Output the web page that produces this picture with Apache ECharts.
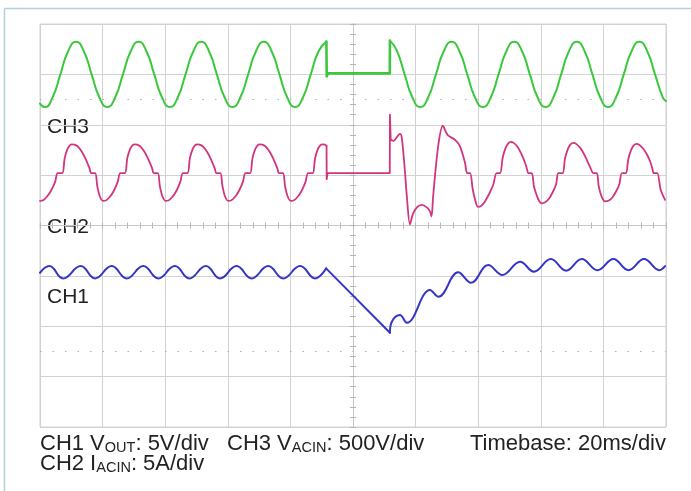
<!DOCTYPE html>
<html><head><meta charset="utf-8">
<script src="https://cdn.jsdelivr.net/npm/echarts@6/dist/echarts.min.js"></script>
<style>html,body{margin:0;padding:0;background:#fff}#c{width:691px;height:491px}</style>
</head><body><div id="c"></div>
<script>
// ---- CH3 V_ACIN (volts), time in ms ----
const ch3PreTime  = [0,1.5,4,6.5,9,11.5,14,16.5,19,21.5,24,26.5,29,31.5,34,36.5,39,41.5,44,46.5,49,51.5,54,56.5,59,61.5,64,66.5,69,71.5,74,76.5,79,81.5,84,86.5,89,91.5];
const ch3PreVolts = [-290,-325,-230,0,230,325,230,0,-230,-325,-230,0,230,325,230,0,-230,-325,-230,0,230,325,230,0,-230,-325,-230,0,230,325,230,0,-230,-325,-230,0,230,325];
const ch3GapTime  = [91.5,91.6,92,111.75,111.8];
const ch3GapVolts = [325,-20,10,10,335];
const ch3PostTime  = [111.8,114,116.5,119,121.5,124,126.5,129,131.5,134,136.5,139,141.5,144,146.5,149,151.5,154,156.5,159,161.5,164,166.5,169,171.5,174,176.5,179,181.5,184,186.5,189,191.5,194,196.5,199,200];
const ch3PostVolts = [335,235,0,-230,-325,-230,0,230,325,230,0,-230,-325,-230,0,230,325,230,0,-230,-325,-230,0,230,325,230,0,-230,-325,-230,0,230,325,230,0,-230,-265];
// ---- CH2 I_ACIN (amps) ----
const ch2PreTime = [0,1.0,2.2,3.6,4.8,5.7,
  7.1,7.9,8.8,9.6,10.2,11.0,12.2,13.6,14.8,15.8,16.4,17.6,18.3,19.1,20.1,21.0,22.2,23.6,24.8,25.7,
  27.1,27.9,28.8,29.6,30.2,31.0,32.2,33.6,34.8,35.8,36.4,37.6,38.3,39.1,40.1,41.0,42.2,43.6,44.8,45.7,
  47.1,47.9,48.8,49.6,50.2,51.0,52.2,53.6,54.8,55.8,56.4,57.6,58.3,59.1,60.1,61.0,62.2,63.6,64.8,65.7,
  67.1,67.9,68.8,69.6,70.2,71.0,72.2,73.6,74.8,75.8,76.4,77.6,78.3,79.1,80.1,81.0,82.2,83.6,84.8,85.7,
  87.1,87.9,88.8,89.6,90.2,91.0,91.55];
const ch2PreAmps = [-2.75,-2.7,-2.35,-1.7,-0.9,0,
  0,1.5,2.4,2.78,2.85,2.82,2.6,2.0,1.25,0.5,0,0,-1.3,-2.3,-2.75,-2.72,-2.4,-1.75,-0.9,0,
  0,1.5,2.4,2.78,2.85,2.82,2.6,2.0,1.25,0.5,0,0,-1.3,-2.3,-2.75,-2.72,-2.4,-1.75,-0.9,0,
  0,1.5,2.4,2.78,2.85,2.82,2.6,2.0,1.25,0.5,0,0,-1.3,-2.3,-2.75,-2.72,-2.4,-1.75,-0.9,0,
  0,1.5,2.4,2.78,2.85,2.82,2.6,2.0,1.25,0.5,0,0,-1.3,-2.3,-2.75,-2.72,-2.4,-1.75,-0.9,0,
  0,1.5,2.4,2.78,2.85,2.82,2.7];
const ch2GapTime = [91.55,91.6,91.9,111.75,111.8,112.05];
const ch2GapAmps = [2.7,-0.6,0,0,5.8,3.3];
const ch2PostTime = [112.05,112.9,115.0,115.6,116.6,117.2,118.2,119.1,120.4,122.0,123.6,124.6,125.1,125.6,127.2,128.7,130.2,132.6,134.2,135.8,136.5,137.4,
  138.2,138.9,139.9,141.0,142.2,143.6,144.8,145.9,
  147.0,147.8,148.7,149.6,150.4,151.3,152.6,153.8,155.0,155.6,156.0,
  157.1,157.8,158.7,159.5,160.3,161.4,162.6,163.8,164.9,165.6,
  167.0,167.7,168.6,169.5,170.4,171.3,172.6,173.8,175.0,175.9,176.8,
  177.9,178.5,179.4,180.5,181.6,182.8,184.0,185.1,185.9,
  187.2,187.9,188.8,189.7,190.6,191.5,192.8,194.0,195.0,195.6,196.1,
  197.2,198.3,199.7];
const ch2PostAmps = [3.3,3.2,3.9,3.5,0.15,-2.3,-5.1,-4.1,-3.4,-3.15,-3.4,-3.8,-4.3,-2.3,2.65,4.7,3.8,3.3,2.65,1.0,0,0,
  -1.5,-2.5,-3.35,-3.25,-2.8,-2.0,-1.15,0,
  0,1.5,2.45,2.95,3.1,3.0,2.6,1.9,1.0,0.4,0,
  0,-1.3,-2.2,-2.8,-3.0,-2.9,-2.55,-1.9,-1.1,0,
  0,1.4,2.35,2.85,3.0,2.9,2.5,1.9,1.1,0.5,0,
  0,-1.3,-2.3,-2.8,-2.75,-2.45,-1.85,-1.1,0,
  0,1.3,2.25,2.75,2.9,2.8,2.4,1.8,1.1,0.5,0,
  0,-1.65,-2.65];
// ---- CH1 V_OUT (volts) ----
const ch1PreTime  = [0,3.0,7.4,13.0,17.6,22.9,27.7,33.0,37.8,43.1,47.7,53.0,57.5,62.8,67.6,72.9,77.7,83.1,87.9,91.4];
const ch1PreVolts = [15.31,15.97,14.75,15.97,14.75,15.97,14.75,15.97,14.75,15.97,14.75,15.97,14.75,15.97,14.75,15.97,14.75,15.97,14.75,15.74];
const ch1DropTime  = [91.4,111.8];
const ch1DropVolts = [15.74,9.35];
const ch1PostTime  = [111.8,112.4,115.0,117.2,124.6,127.3,133.6,137.7,143.2,147.7,153.4,157.8,163.2,168.1,173.1,178.1,183.2,188.0,193.0,197.9,199.7];
const ch1PostVolts = [9.35,10.45,11.11,10.35,13.59,12.93,15.35,14.31,16.07,15.08,16.40,15.41,16.67,15.51,16.67,15.57,16.67,15.57,16.67,15.57,15.97];
// ---- labels ----
const channelLabels = ['CH3','CH2','CH1'];
const captionLine1 = ['CH1 V{sub|OUT}: 5V/div','CH3 V{sub|ACIN}: 500V/div','Timebase: 20ms/div'];
const captionLine2 = 'CH2 I{sub|ACIN}: 5A/div';

const zip = (a,b)=>a.map((t,i)=>[t,b[i]]);
const chart = echarts.init(document.getElementById('c'), null, {renderer:'canvas'});
const FONT = "'Liberation Sans', Arial, Helvetica, sans-serif";
const gridColor = '#d2d2d2';
const tickColor = '#b4b4b4';
const GREEN = '#3cc83c', PINK = '#d3347f', BLUE = '#3535c8';
const centerAxis = (pos, onIdx, extra) => Object.assign({
  type:'value', position:pos,
  axisLine:{show:true,onZero:true,onZeroAxisIndex:onIdx,lineStyle:{color:'#c6c6c6',width:1}},
  axisTick:{show:true,length:3,lineStyle:{color:tickColor}},
  minorTick:{show:true,splitNumber:5,length:3,lineStyle:{color:tickColor}},
  axisLabel:{show:false}, splitLine:{show:false}, minorSplitLine:{show:false}
}, extra);
const trace = (name, yIdx, data, color, width, smooth) => ({
  name, type:'line', xAxisIndex:0, yAxisIndex:yIdx, data, smooth, symbol:'none',
  lineStyle:{color, width, cap:'round', join:'round'}, silent:true
});
const rich = {sub:{fontSize:14.5,lineHeight:10,verticalAlign:'bottom',fontFamily:FONT,fill:'#222'}};
const option = {
  animation:false,
  backgroundColor:'#fff',
  grid:{left:40,top:24,width:626,height:403,show:true,borderColor:gridColor,borderWidth:1,backgroundColor:'#fff'},
  xAxis:[
    {type:'value',min:0,max:200,interval:20,axisLine:{show:false},axisTick:{show:false},axisLabel:{show:false},splitLine:{show:true,lineStyle:{color:gridColor,width:1}}},
    centerAxis('bottom',0,{min:-5,max:5,interval:1}),
    centerAxis('top',0,{min:-5,max:5,interval:1})
  ],
  yAxis:[
    {type:'value',min:-4,max:4,interval:1,axisLine:{show:false},axisTick:{show:false},axisLabel:{show:false},splitLine:{show:true,lineStyle:{color:gridColor,width:1}}},
    centerAxis('left',1,{min:-4,max:4,interval:1}),
    centerAxis('right',1,{min:-4,max:4,interval:1}),
    {type:'value',min:-3500,max:500,show:false},
    {type:'value',min:-25.2,max:14.8,show:false},
    {type:'value',min:0,max:40,show:false}
  ],
  series:[
    {type:'line',xAxisIndex:0,yAxisIndex:0,data:[],silent:true,
     markLine:{silent:true,symbol:'none',label:{show:false},lineStyle:{color:'#b0b0b0',type:[1.5,11],width:1.2},data:[{yAxis:2.5},{yAxis:-2.5}]}},
    trace('CH3',3,zip(ch3PreTime,ch3PreVolts),GREEN,2,0.55),
    trace('CH3',3,zip(ch3GapTime,ch3GapVolts),GREEN,2.6,false),
    trace('CH3',3,zip(ch3PostTime,ch3PostVolts),GREEN,2,0.55),
    trace('CH2',4,zip(ch2PreTime,ch2PreAmps),PINK,1.8,0.35),
    trace('CH2',4,zip(ch2GapTime,ch2GapAmps),PINK,1.8,false),
    trace('CH2',4,zip(ch2PostTime,ch2PostAmps),PINK,1.8,0.3),
    trace('CH1',5,zip(ch1PreTime,ch1PreVolts),BLUE,2,0.45),
    trace('CH1',5,zip(ch1DropTime,ch1DropVolts),BLUE,2,false),
    trace('CH1',5,zip(ch1PostTime,ch1PostVolts),BLUE,2,0.4)
  ],
  graphic:[
    {type:'line',shape:{x1:4.5,y1:8.5,x2:691,y2:8.5},style:{stroke:'#b3cfdd',lineWidth:1.5},silent:true},
    {type:'line',shape:{x1:4.5,y1:8.5,x2:4.5,y2:491},style:{stroke:'#b3cfdd',lineWidth:1.5},silent:true},
    {type:'text',x:47,y:127.5,style:{text:channelLabels[0],font:'21px '+FONT,fill:'#222',textVerticalAlign:'middle'}},
    {type:'text',x:47,y:227,style:{text:channelLabels[1],font:'21px '+FONT,fill:'#222',textVerticalAlign:'middle'}},
    {type:'text',x:47,y:297.5,style:{text:channelLabels[2],font:'21px '+FONT,fill:'#222',textVerticalAlign:'middle'}},
    {type:'text',x:40,y:444,style:{text:captionLine1[0],rich:rich,fontSize:22,fontFamily:FONT,lineHeight:22,fill:'#222',textVerticalAlign:'middle'}},
    {type:'text',x:227,y:444,style:{text:captionLine1[1],rich:rich,fontSize:22,fontFamily:FONT,lineHeight:22,fill:'#222',textVerticalAlign:'middle'}},
    {type:'text',x:666,y:444,style:{text:captionLine1[2],fontSize:22,fontFamily:FONT,fill:'#222',textAlign:'right',textVerticalAlign:'middle'}},
    {type:'text',x:40,y:464,style:{text:captionLine2,rich:rich,fontSize:22,fontFamily:FONT,lineHeight:22,fill:'#222',textVerticalAlign:'middle'}}
  ]
};
chart.setOption(option);
</script></body></html>
